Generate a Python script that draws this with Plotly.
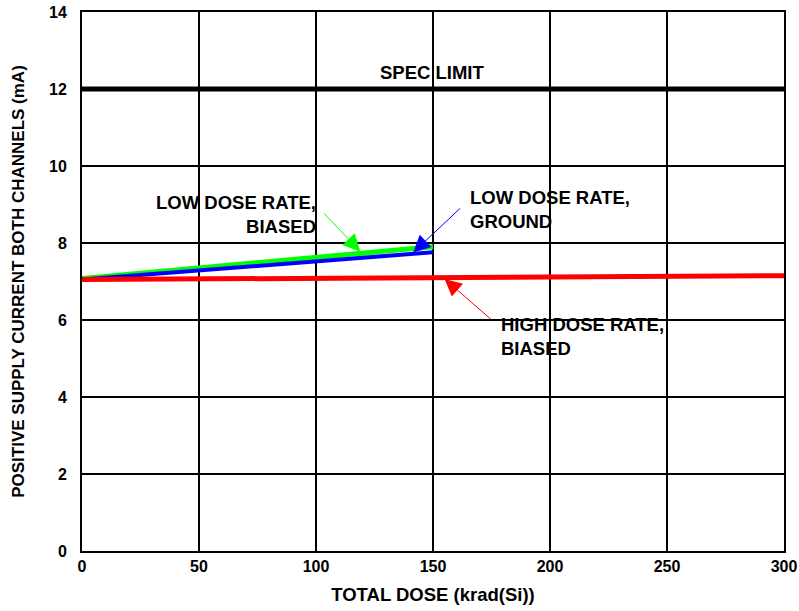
import numpy as np
import plotly.graph_objects as go

# Total dose (krad(Si)) and positive supply current (mA) for each test condition
dose_low = [0, 50, 100, 150]
ldr_biased = [7.08, 7.36, 7.64, 7.90]
ldr_ground = [7.05, 7.29, 7.53, 7.76]

dose_high = [0, 50, 100, 150, 200, 250, 300]
hdr_biased = [7.05, 7.07, 7.09, 7.10, 7.12, 7.13, 7.15]

spec_dose = [0, 300]
spec_limit = [12, 12]

x_ticks = [0, 50, 100, 150, 200, 250, 300]
y_ticks = [0, 2, 4, 6, 8, 10, 12, 14]

FONT = "Liberation Sans, Arial, sans-serif"

fig = go.Figure()
fig.add_trace(go.Scatter(x=spec_dose, y=spec_limit, mode="lines",
                         line=dict(color="black", width=5), showlegend=False))
fig.add_trace(go.Scatter(x=dose_low, y=ldr_biased, mode="lines",
                         line=dict(color="#00ff00", width=5), showlegend=False))
fig.add_trace(go.Scatter(x=dose_low, y=ldr_ground, mode="lines",
                         line=dict(color="#0000ff", width=4), showlegend=False))
fig.add_trace(go.Scatter(x=dose_high, y=hdr_biased, mode="lines",
                         line=dict(color="#ff0000", width=5), showlegend=False))


def arrow(tip_x, xs, ys, tail_x, tail_y, color):
    tip_y = float(np.interp(tip_x, xs, ys))
    fig.add_annotation(x=tip_x, y=tip_y, ax=tail_x, ay=tail_y,
                       xref="x", yref="y", axref="x", ayref="y",
                       text="", showarrow=True, arrowhead=2, arrowsize=3.4,
                       arrowwidth=1, arrowcolor=color, standoff=2)


arrow(119.5, dose_low, ldr_biased, 102.8, 8.81, "#00ff00")
arrow(140.9, dose_low, ldr_ground, 162.3, 8.94, "#0000ff")
arrow(154.3, dose_high, hdr_biased, 175.5, 5.98, "#ff0000")

label_font = dict(family=FONT, size=18.5, color="black")
fig.add_annotation(x=100.9, y=8.73, xref="x", yref="y", xanchor="right",
                   align="right", showarrow=False, font=label_font,
                   text="<b>LOW DOSE RATE,</b><br><b>BIASED</b>")
fig.add_annotation(x=165.0, y=8.88, xref="x", yref="y", xanchor="left",
                   align="left", showarrow=False, font=label_font,
                   text="<b>LOW DOSE RATE,</b><br><b>GROUND</b>")
fig.add_annotation(x=178.2, y=5.58, xref="x", yref="y", xanchor="left",
                   align="left", showarrow=False, font=label_font,
                   text="<b>HIGH DOSE RATE,</b><br><b>BIASED</b>")
fig.add_annotation(x=149.6, y=12.42, xref="x", yref="y", xanchor="center",
                   showarrow=False, font=label_font, text="<b>SPEC LIMIT</b>")

axis_common = dict(showline=True, mirror=True, linecolor="black", linewidth=2,
                   showgrid=True, gridcolor="black", gridwidth=2,
                   zeroline=False, ticks="", automargin=False,
                   tickfont=dict(family=FONT, size=16, color="black"))

fig.update_xaxes(range=[0, 300], tickvals=x_ticks,
                 ticktext=[f"<b>{v}</b>" for v in x_ticks],
                 ticklabelstandoff=0,
                 title=dict(text="<b>TOTAL DOSE (krad(Si))</b>", standoff=14,
                            font=dict(family=FONT, size=18.5, color="black")),
                 **axis_common)
fig.update_yaxes(range=[0, 14], tickvals=y_ticks,
                 ticktext=[f"<b>{v}</b>" for v in y_ticks],
                 ticklabelstandoff=10,
                 title=dict(text="<b>POSITIVE SUPPLY CURRENT BOTH CHANNELS (mA)</b>",
                            standoff=20,
                            font=dict(family=FONT, size=17, color="black")),
                 **axis_common)

fig.update_layout(width=799, height=611,
                  margin=dict(l=82, r=15, t=12, b=60),
                  paper_bgcolor="white", plot_bgcolor="white")

fig.write_html("out.html")
